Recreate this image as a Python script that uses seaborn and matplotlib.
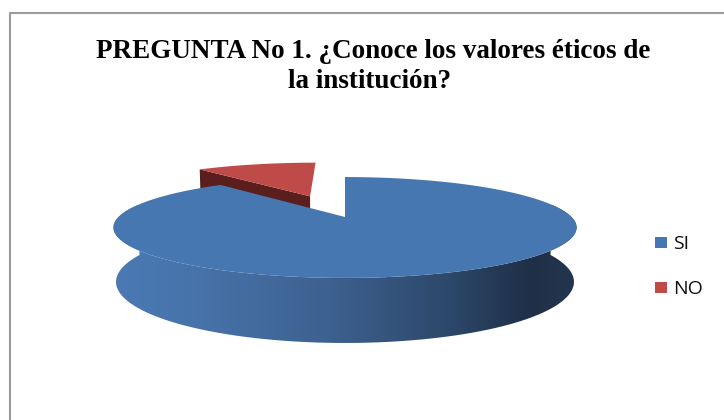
import numpy as np
import matplotlib
matplotlib.use("Agg")
import matplotlib.pyplot as plt
import seaborn as sns
from matplotlib.patches import Polygon, Rectangle
from matplotlib.lines import Line2D
from matplotlib.colors import LinearSegmentedColormap

# Survey answers
categories = ["SI", "NO"]
values = [89, 11]
top_colors = ["#4677B0", "#BE4B48"]
cut_colors = ["#1E2F49", "#5A1E1C"]
explode = [0.0, 0.5]
title_lines = ["PREGUNTA No 1. ¿Conoce los valores éticos de", "la institución?"]

sns.set_theme(style="white")

W, H = 724, 420
fig = plt.figure(figsize=(W / 100, H / 100), dpi=100)
ax = fig.add_axes([0, 0, 1, 1])
ax.set_xlim(0, W)
ax.set_ylim(H, 0)
ax.axis("off")

# Perspective camera for the tilted pie
CX, CY = 345.0, 217.0
SCALE = 226.5
DIST = 4.70
ELEV = np.radians(12.3)
DEPTH = 0.239


def project(X, Y, Z):
    X, Y, Z = np.broadcast_arrays(np.asarray(X, float), np.asarray(Y, float), np.asarray(Z, float))
    v = Y * np.sin(ELEV) + Z * np.cos(ELEV)
    w = DIST + Y * np.cos(ELEV) - Z * np.sin(ELEV)
    return np.column_stack([CX + SCALE * DIST * X / w, CY - SCALE * DIST * v / w])


# Slice angles: first slice starts at 12 o'clock and runs clockwise
total = float(sum(values))
spans = []
end = 90.0
for val in values:
    start = end - 360.0 * val / total
    spans.append((start, end))
    end = start

slices = []
for (a0, a1), ex in zip(spans, explode):
    mid = np.radians((a0 + a1) / 2)
    slices.append((np.radians(a0), np.radians(a1), ex * np.cos(mid), ex * np.sin(mid)))

# --- NO slice (exploded, behind) ---
a0, a1, ox, oy = slices[1]
# side face along the left cut of the wedge (faces the viewer)
face = np.vstack([
    project(ox, oy, 0),
    project(ox + np.cos(a1), oy + np.sin(a1), 0),
    project(ox + np.cos(a1), oy + np.sin(a1), -DEPTH),
    project(ox, oy, -DEPTH),
])
ax.add_patch(Polygon(face, closed=True, facecolor=cut_colors[1], edgecolor="none", zorder=2))
t = np.linspace(a0, a1, 120)
top = np.vstack([project(ox, oy, 0), project(ox + np.cos(t), oy + np.sin(t), 0)])
ax.add_patch(Polygon(top, closed=True, facecolor=top_colors[1], edgecolor="none", zorder=3))

# --- SI slice ---
a0, a1, ox, oy = slices[0]
tw = np.linspace(np.radians(-195), np.radians(15), 300)
wall = np.vstack([
    project(ox + np.cos(tw), oy + np.sin(tw), 0),
    project(ox + np.cos(tw[::-1]), oy + np.sin(tw[::-1]), -DEPTH),
])
wall_patch = Polygon(wall, closed=True, facecolor="none", edgecolor="none", zorder=4)
ax.add_patch(wall_patch)
shade = LinearSegmentedColormap.from_list(
    "wall",
    [(0.0, "#4A79B4"), (0.18, "#4773AA"), (0.46, "#3D6190"),
     (0.72, "#2D496B"), (0.90, "#1F2F47"), (1.0, "#24364F")],
)
grad = np.linspace(0, 1, 512)[None, :]
im = ax.imshow(grad, cmap=shade, extent=[wall[:, 0].min(), wall[:, 0].max(), 360, 160],
               aspect="auto", zorder=4, interpolation="bilinear")
im.set_clip_path(wall_patch)

# edge of the wedge cut at 12 o'clock
cut = np.vstack([project(ox, oy, 0), project(ox, oy + 1, 0)])
ax.plot(cut[:, 0] + 0.8, cut[:, 1], color=cut_colors[0], lw=1.3, zorder=4.5, solid_capstyle="butt")

t = np.linspace(a0, a1, 400)
top = np.vstack([project(ox, oy, 0), project(ox + np.cos(t), oy + np.sin(t), 0)])
ax.add_patch(Polygon(top, closed=True, facecolor=top_colors[0], edgecolor="none", zorder=5))

# Chart frame
ax.add_line(Line2D([10, 10, W], [H, 13, 13], color="#9C9C9C", lw=1.5, zorder=1))

# Title
title_font = dict(family="Liberation Serif", weight="bold", size=19.5, color="black")
ax.text(373, 58, title_lines[0], ha="center", va="baseline", **title_font)
ax.text(370, 88, title_lines[1], ha="center", va="baseline", **title_font)

# Legend
legend_y = [242, 287]
for lab, col, y in zip(categories, top_colors, legend_y):
    ax.add_patch(Rectangle((655, y - 5.5), 12, 11, facecolor=col, edgecolor="none"))
    ax.text(673, y + 7, lab, ha="left", va="baseline", family="Open Sans",
            size=14, color="#111111")

fig.savefig("out.png", dpi=100)
